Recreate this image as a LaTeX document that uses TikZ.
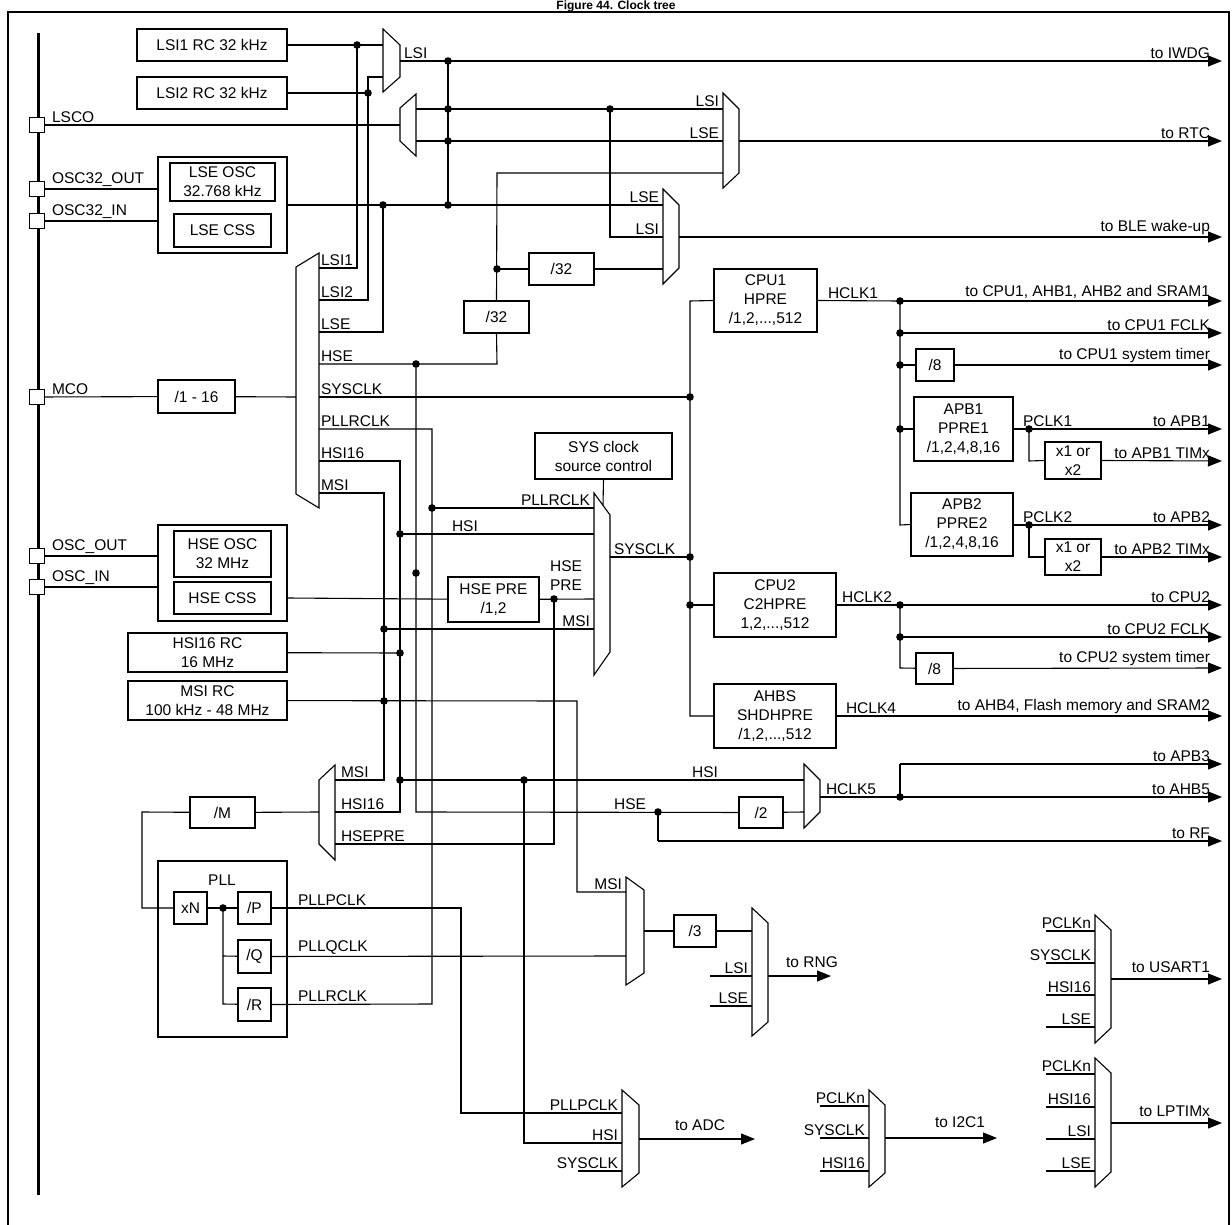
\documentclass[tikz,border=0pt]{standalone}
\usepackage{fontspec}
\setmainfont{Liberation Sans}
\usetikzlibrary{arrows.meta}
\begin{document}
\begin{tikzpicture}[x=1pt,y=-1pt,line width=1.1pt,
  box/.style={draw,inner sep=0pt,align=center,font=\fontsize{15.5}{19}\selectfont},
  lab/.style={inner sep=1.5pt,font=\fontsize{15.5}{19}\selectfont},
  mux/.style={draw,line join=miter},
  arr/.style={-{Triangle[length=14pt,width=11pt]}},
  pin/.style={draw,fill=white,minimum size=15pt,inner sep=0pt}]
\newcommand\bx[6]{\node[box,minimum width={(#4)-(#2)},minimum height={(#5)-(#3)}] (#1) at ({((#2)+(#4))/2},{((#3)+(#5))/2}) {#6};}
\newcommand\dt[2]{\fill (#1,#2) circle (3.8);}
\newcommand\lse[3]{\node[lab,anchor=south east] at (#1,#2) {#3};}
\newcommand\lsw[3]{\node[lab,anchor=south west] at (#1,#2) {#3};}
\useasboundingbox (0,0) rectangle (1232,1225);
% title and frame
\node[font=\fontsize{12}{13}\selectfont\bfseries,anchor=base,inner sep=0pt] (title) at (616,9.5) {Figure 44. Clock tree};
\draw[line width=2pt] (8,1240) -- (8,12) -- (1229,12) -- (1229,1240);
\draw[line width=3pt] (38,33) -- (38,1195);
% pins
\foreach \n/\y/\t in {lsco/125/LSCO,o32o/189/OSC32\_OUT,o32i/221/OSC32\_IN,mco/397/MCO,oo/556/OSC\_OUT,oi/587/OSC\_IN}{
  \node[pin] (p\n) at (37,\y) {};
  \node[lab,anchor=south west] at (50,\y) {\t};}
% boxes
\bx{lsi1}{137}{29}{287}{61}{LSI1 RC 32 kHz}
\bx{lsi2}{137}{77}{287}{109}{LSI2 RC 32 kHz}
\bx{lseout}{158}{157}{287}{253}{}
\bx{lseosc}{170}{163}{275}{201}{LSE OSC\\32.768 kHz}
\bx{lsecss}{174}{214}{271}{247}{LSE CSS}
\bx{mcodiv}{158}{380}{235}{413}{/1 - 16}
\bx{hseout}{158}{525}{287}{621}{}
\bx{hseosc}{174}{531}{271}{577}{HSE OSC\\32 MHz}
\bx{hsecss}{174}{582}{271}{614}{HSE CSS}
\bx{hsirc}{128}{633}{287}{672}{HSI16 RC\\16 MHz}
\bx{msirc}{128}{681}{287}{720}{MSI RC\\100 kHz - 48 MHz}
\bx{dA}{464}{301}{529}{333}{/32}
\bx{dB}{529}{253}{594}{285}{/32}
\bx{cpu1}{714}{269}{817}{332}{CPU1\\HPRE\\/1,2,...,512}
\bx{sysctl}{535}{433}{672}{479}{SYS clock\\source control}
\bx{hsepre}{448}{577}{539}{622}{HSE PRE\\/1,2}
\bx{cpu2}{714}{573}{836}{637}{CPU2\\C2HPRE\\1,2,...,512}
\bx{ahbs}{714}{684}{836}{748}{AHBS\\SHDHPRE\\/1,2,...,512}
\bx{d8a}{916}{349}{954}{381}{/8}
\bx{apb1}{914}{397}{1013}{461}{APB1\\PPRE1\\/1,2,4,8,16}
\bx{xa}{1045}{442}{1101}{479}{x1 or\\x2}
\bx{apb2}{911}{493}{1013}{556}{APB2\\PPRE2\\/1,2,4,8,16}
\bx{xb}{1045}{539}{1101}{575}{x1 or\\x2}
\bx{d8b}{916}{653}{953}{684}{/8}
\bx{d2}{739}{797}{783}{828}{/2}
\bx{dM}{190}{797}{255}{828}{/M}
\bx{pll}{158}{861}{287}{1037}{}
\node[lab] (plll) at (222,880) {PLL};
\bx{xN}{174}{892}{207}{924}{xN}
\bx{dP}{238}{892}{271}{924}{/P}
\bx{dQ}{238}{940}{271}{973}{/Q}
\bx{dR}{238}{988}{271}{1021}{/R}
\bx{d3}{674}{915}{716}{947}{/3}
% muxes
\draw[mux] (383,29)--(400,45)--(400,77)--(383,92)--cycle;
\draw[mux] (416,94)--(400,108)--(400,141)--(416,156)--cycle;
\draw[mux] (723,93)--(739,109)--(739,173)--(723,188)--cycle;
\draw[mux] (663,189)--(679,205)--(679,268)--(663,284)--cycle;
\draw[mux] (296,267)--(319,253)--(319,508)--(296,494)--cycle;
\draw[mux] (594,493)--(610,515)--(610,652)--(594,675)--cycle;
\draw[mux] (319,780)--(335,765)--(335,860)--(319,844)--cycle;
\draw[mux] (804,764)--(820,780)--(820,812)--(804,828)--cycle;
\draw[mux] (626,877)--(644,890)--(644,973)--(626,985)--cycle;
\draw[mux] (752,908)--(768,923)--(768,1022)--(752,1036)--cycle;
\draw[mux] (622,1090)--(639,1105)--(639,1173)--(622,1187)--cycle;
\draw[mux] (869,1090)--(885,1105)--(885,1173)--(869,1187)--cycle;
\draw[mux] (1095,915)--(1111,930)--(1111,1028)--(1095,1043)--cycle;
\draw[mux] (1095,1058)--(1111,1073)--(1111,1172)--(1095,1187)--cycle;
% pin wires
\draw (plsco) -- (400,125);
\draw (po32o) -- (158,189);
\draw (po32i) -- (158,221);
\draw (pmco) -- (mcodiv);
\draw (mcodiv) -- (296,397);
\draw (poo) -- (158,556);
\draw (poi) -- (158,587);
% LSI section
\draw (lsi1) -- (383,45); \dt{357}{45}
\draw (357,45) -- (357,268) -- (319,268);
\draw (lsi2) -- (368,93); \dt{368}{93}
\draw (383,77) -- (368,77) -- (368,300) -- (319,300);
\draw[arr] (400,61) -- (1222,61); \dt{448}{61}
\lsw{402}{61}{LSI}
\draw (448,61) -- (448,205);
\dt{448}{109}\dt{448}{141}\dt{448}{205}
\draw (416,109) -- (723,109); \dt{610}{109} \lse{721}{109}{LSI}
\draw (416,141) -- (723,141); \lse{721}{141}{LSE}
\draw[arr] (739,141) -- (1222,141);
\draw (lseout.east |- 0,205) -- (663,205); \dt{383}{205} \lse{661}{205}{LSE}
\draw (383,205) -- (383,332) -- (319,332);
\draw (610,109) -- (610,237) -- (663,237); \lse{661}{237}{LSI}
\draw[arr] (679,237) -- (1222,237);
\draw (723,173) -- (497,173) -- (dA.north);
\dt{497}{269} \draw (497,269) -- (dB); \draw (dB) -- (663,269);
\draw (dA.south) -- (497,364) -- (319,364); \dt{416}{364}
% right labels of outputs
\lse{1212}{61}{to IWDG}
\lse{1212}{141}{to RTC}
\lse{1212}{237}{to BLE wake-up}
% MCO mux labels
\foreach \y/\t in {268/LSI1,300/LSI2,332/LSE,364/HSE,397/SYSCLK,429/PLLRCLK,461/HSI16,493/MSI}{\lsw{319}{\y}{\t}}
% HSE path
\draw (416,364) -- (416,812) -- (d2); \dt{416}{573}
\dt{658}{812} \lse{648}{812}{HSE}
\draw (658,812) -- (658,841); \draw[arr] (658,841) -- (1222,841); \lse{1212}{841}{to RF}
\draw (d2) -- (804,812);
\draw (820,797) -- (900,797); \draw[arr] (900,797) -- (1222,797); \dt{900}{797}
\draw (900,797) -- (900,764); \draw[arr] (900,764) -- (1222,764);
\lsw{824}{797}{HCLK5} \lse{1212}{797}{to AHB5} \lse{1212}{764}{to APB3}
% SYSCLK
\draw (319,397) -- (690,397); \dt{690}{397}
\draw (cpu1.west) -- (690,301) -- (690,716) -- (ahbs.west);
\draw (610,557) -- (690,557); \dt{690}{557} \lsw{612}{557}{SYSCLK}
\dt{690}{605} \draw (690,605) -- (cpu2.west);
\draw (sysctl.south) -- (603,505);
% PLLRCLK
\draw (319,429) -- (432,429) -- (432,1004) -- (dR.east); \dt{432}{508}
\draw (432,508) -- (594,508); \lse{592}{508}{PLLRCLK}
% HSI16
\draw (319,461) -- (400,461) -- (400,812) -- (335,812);
\dt{400}{534}\dt{400}{653}\dt{400}{780}
\draw (400,534) -- (594,534); \lsw{450}{534}{HSI}
\draw (hsirc) -- (400,653);
\draw (400,780) -- (804,780); \dt{524}{780} \lse{720}{780}{HSI}
% MSI
\draw (319,493) -- (384,493) -- (384,780) -- (335,780);
\dt{384}{629}\dt{384}{701}
\draw (384,629) -- (594,629); \lse{592}{629}{MSI}
\draw (msirc) -- (577,701) -- (577,892) -- (626,892); \lse{624}{892}{MSI}
% HSE CSS / HSE PRE
\draw (hsecss.east -| hseout.east) -- (hsepre);
\draw (hsepre) -- (594,599); \dt{554}{599}
\node[lab,align=center] (hsepl) at (566,576) {HSE\\PRE};
\draw (554,599) -- (554,844) -- (335,844);
\foreach \y/\t in {780/MSI,812/HSI16,844/HSEPRE}{\lsw{339}{\y}{\t}}
% PLL
\draw (319,812) -- (dM);
\draw (dM) -- (142,812) -- (142,908) -- (xN);
\draw (xN) -- (dP); \dt{223}{908}
\draw (223,908) -- (223,1004) -- (dR); \draw (223,956) -- (dQ);
\draw (dP) -- (461,908) -- (461,1113) -- (622,1113);
\draw (dQ) -- (626,956);
\lsw{296}{908}{PLLPCLK} \lsw{296}{956}{PLLQCLK} \lsw{296}{1004}{PLLRCLK}
% RNG
\draw (644,931) -- (d3); \draw (d3) -- (752,931);
\draw (710,976) -- (752,976); \lse{750}{976}{LSI}
\draw (710,1006) -- (752,1006); \lse{750}{1006}{LSE}
\draw[arr] (768,976) -- (831,976); \node[lab,anchor=south] at (812,970) {to RNG};
% ADC
\lse{620}{1113}{PLLPCLK}
\draw (524,780) -- (524,1143) -- (622,1143); \lse{620}{1143}{HSI}
\draw (578,1171) -- (622,1171); \lse{620}{1171}{SYSCLK}
\draw[arr] (639,1139) -- (755,1139); \node[lab,anchor=south] at (700,1133) {to ADC};
% I2C1
\foreach \y/\t in {1106/PCLKn,1138/SYSCLK,1171/HSI16}{\draw (820,\y) -- (869,\y); \lse{867}{\y}{\t}}
\draw[arr] (885,1138) -- (997,1138); \node[lab,anchor=south] at (960,1130) {to I2C1};
% USART1
\foreach \y/\t in {931/PCLKn,963/SYSCLK,995/HSI16,1027/LSE}{\draw (1046,\y) -- (1095,\y); \lse{1093}{\y}{\t}}
\draw[arr] (1111,979) -- (1222,979); \lse{1212}{975}{to USART1}
% LPTIM
\foreach \y/\t in {1074/PCLKn,1107/HSI16,1139/LSI,1171/LSE}{\draw (1046,\y) -- (1095,\y); \lse{1093}{\y}{\t}}
\draw[arr] (1111,1123) -- (1222,1123); \lse{1212}{1119}{to LPTIMx}
% right side
\draw (cpu1.east) -- (900,301); \draw[arr] (900,301) -- (1222,301); \dt{900}{301}
\lsw{826}{301}{HCLK1} \lse{1212}{301}{to CPU1, AHB1, AHB2 and SRAM1}
\draw (900,301) -- (900,525) -- (apb2.west);
\dt{900}{333}\dt{900}{365}\dt{900}{429}
\draw[arr] (900,333) -- (1222,333); \lse{1212}{333}{to CPU1 FCLK}
\draw (900,365) -- (d8a); \draw[arr] (d8a) -- (1222,365); \lse{1212}{365}{to CPU1 system timer}
\draw (900,429) -- (apb1.west);
\draw[arr] (apb1.east |- 0,429) -- (1222,429); \lsw{1021}{429}{PCLK1} \lse{1212}{429}{to APB1}
\dt{1029}{429} \draw (1029,429) -- (1029,461) -- (xa.west);
\draw[arr] (xa.east) -- (1222,461); \lse{1212}{461}{to APB1 TIMx}
\draw[arr] (apb2.east |- 0,525) -- (1222,525); \lsw{1021}{525}{PCLK2} \lse{1212}{525}{to APB2}
\dt{1029}{525} \draw (1029,525) -- (1029,557) -- (xb.west);
\draw[arr] (xb.east) -- (1222,557); \lse{1212}{557}{to APB2 TIMx}
\draw (cpu2.east |- 0,605) -- (900,605); \draw[arr] (900,605) -- (1222,605); \dt{900}{605}
\lsw{840}{605}{HCLK2} \lse{1212}{605}{to CPU2}
\draw (900,605) -- (900,668) -- (d8b); \dt{900}{637}
\draw[arr] (900,637) -- (1222,637); \lse{1212}{637}{to CPU2 FCLK}
\draw[arr] (d8b) -- (1222,668); \lse{1212}{668}{to CPU2 system timer}
\draw[arr] (ahbs.east) -- (1222,716); \lsw{844}{716}{HCLK4} \lse{1212}{716}{to AHB4, Flash memory and SRAM2}
\end{tikzpicture}
\end{document}
